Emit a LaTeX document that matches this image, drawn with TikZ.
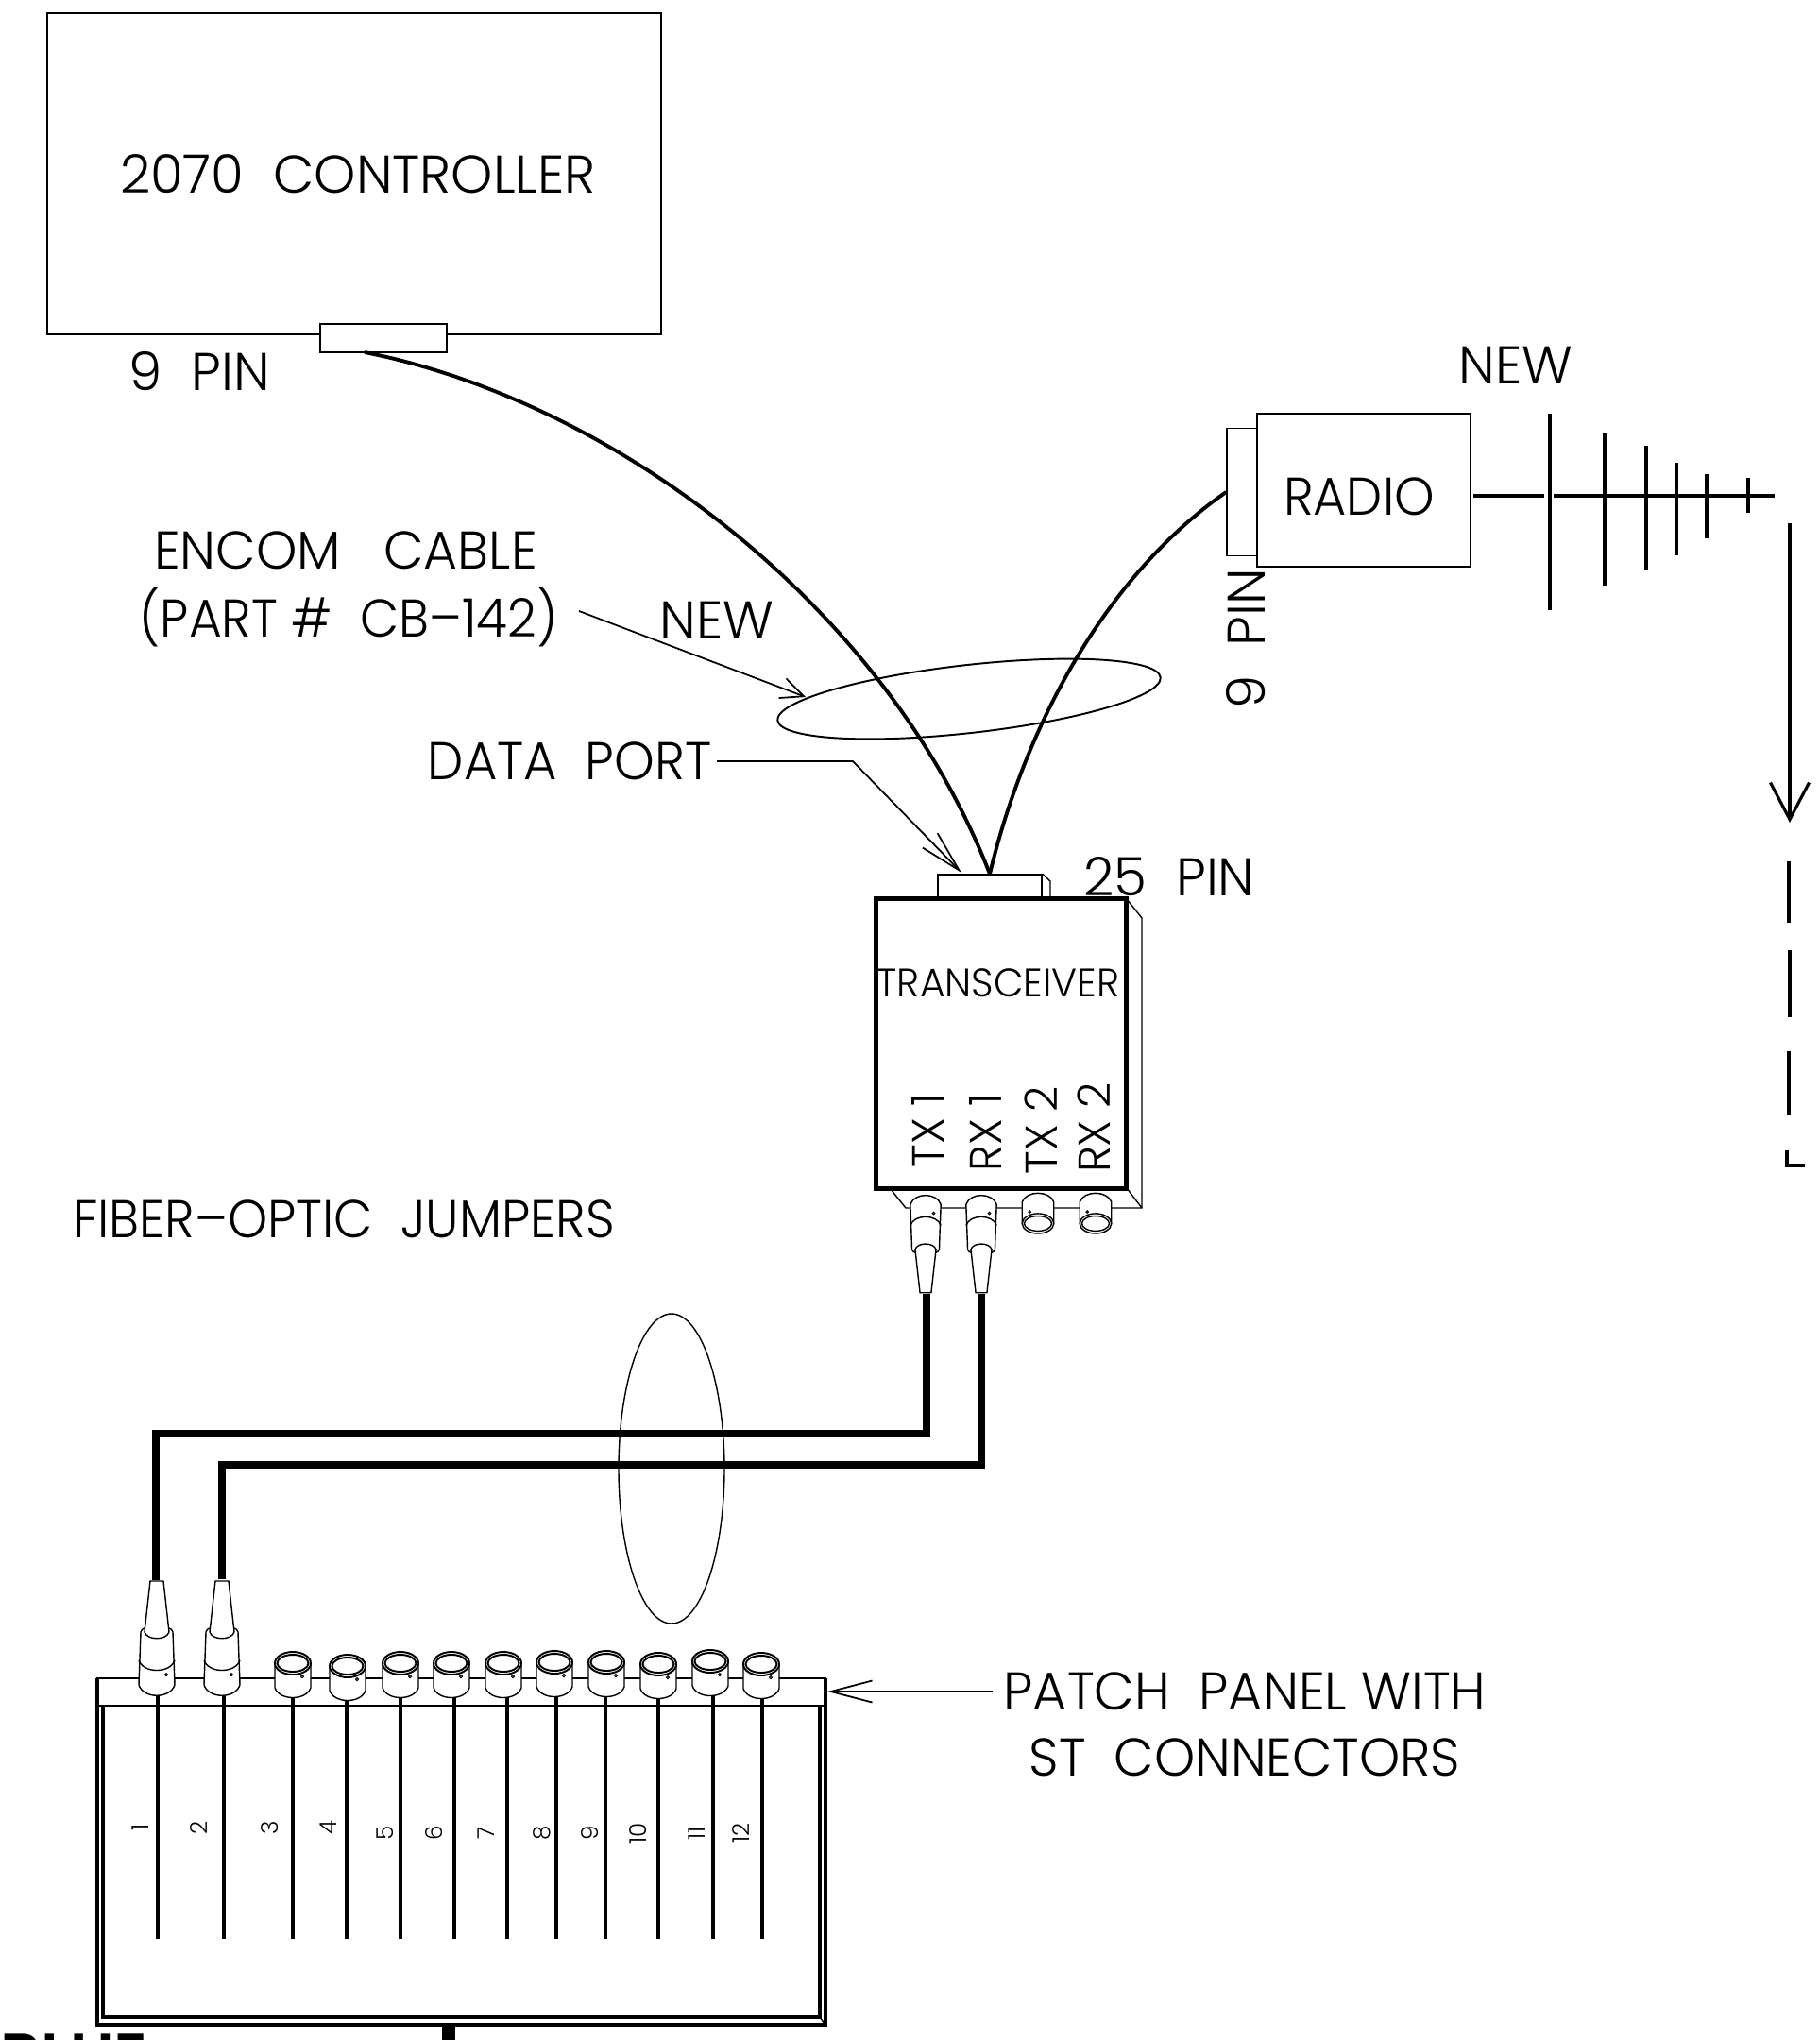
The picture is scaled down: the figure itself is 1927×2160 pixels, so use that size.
\documentclass[tikz,border=0pt]{standalone}
\usepackage{fontspec}
\setmainfont{Poppins}[UprightFont=* Light]
\usetikzlibrary{arrows.meta,positioning,calc}

\tikzset{
    boxnode/.style={draw, line width=0.4pt, inner sep=0pt, fill=white},
    txt/.style={inner sep=0pt, font=\fontsize{16}{18}\selectfont},
    squeeze/.style={inner sep=0pt, font=\fontsize{16}{18}\selectfont\addfontfeature{FakeStretch=#1}},
    pinlabel/.style={inner sep=0pt, rotate=90, font=\fontsize{13.5}{15}\selectfont},
    numlabel/.style={inner sep=0pt, rotate=90, font=\fontsize{7}{8}\selectfont},
    cable/.style={line width=1.1pt},
    jumper/.style={line width=2.3pt},
    leader/.style={line width=0.5pt},
    ring/.style={line width=0.55pt},
    stport/.pic={
        \draw[fill=white, line width=0.4pt] (-19,11) -- (-19,38) .. controls (-14,52) and (14,52) .. (19,38) -- (19,11);
        \draw[fill=white, ring] (0,12) ellipse [x radius=19, y radius=12];
        \draw[ring] (0,12) ellipse [x radius=16.5, y radius=9];
        \draw[line width=0.3pt] (10,26) circle (1.5);
    },
    stplug/.pic={
        \draw[fill=white, line width=0.4pt] (-19,-12) .. controls (-14,3) and (14,3) .. (19,-12) -- (17,-68) .. controls (17,-76) and (-17,-76) .. (-17,-68) -- cycle;
        \draw[line width=0.4pt] (-19,-38) .. controls (-14,-24) and (14,-24) .. (19,-38);
        \draw[fill=white, line width=0.4pt] (-13,-68) .. controls (-10,-59) and (10,-59) .. (13,-68) -- (7,-122) -- (-7,-122) -- cycle;
        \draw[line width=0.3pt] (10,-23) circle (1.5);
    }
}

\begin{document}
\begin{tikzpicture}[x=0.01cm, y=-0.01cm]
    \useasboundingbox (0,0) rectangle (1927,2160);
    \clip (0,0) rectangle (1927,2160);

    % Controller
    \node[boxnode, minimum width=6.5cm, minimum height=3.4cm] (controller) at (375,184) {};
    \node[txt] (controllertxt) at (379,184) {2070\ \ CONTROLLER};
    \node[boxnode, minimum width=1.34cm, minimum height=0.3cm] (ctrlport) at (406,358) {};
    \node[txt] (ctrlpin) at (211,393) {9\ \ PIN};

    % Radio and antenna
    \node[boxnode, minimum width=0.32cm, minimum height=1.35cm] (radioport) at (1315,521) {};
    \node[boxnode, minimum width=2.26cm, minimum height=1.62cm] (radio) at (1444,519) {};
    \node[squeeze=0.96] (radiotxt) at (1439,526) {RADIO};
    \node[txt] (radionew) at (1605,387) {NEW};
    \node[pinlabel, font=\fontsize{16}{18}\selectfont] (radiopin) at (1319,676) {9\ \ PIN};

    \coordinate (antstart) at (1560,525);
    \coordinate (antgap) at (1635,525);
    \coordinate (antgapb) at (1645,525);
    \coordinate (antend) at (1879,525);
    \draw[line width=0.9pt] (antstart) -- (antgap);
    \draw[line width=0.9pt] (antgapb) -- (antend);
    \foreach \x/\ytop/\ybot in {1641/438/646, 1699/458/620, 1743/472/603, 1775/490/588, 1807/502/570, 1851/506/543} {
        \draw[line width=0.9pt] (\x,\ytop) -- (\x,\ybot);
    }

    % Route onward
    \coordinate (routetop) at (1895,554);
    \coordinate (routetip) at (1895,871);
    \draw[line width=0.9pt, -{Straight Barb[length=3.9mm, width=4.1mm]}] (routetop) -- (routetip);
    \draw[line width=0.9pt] (1894,912) -- (1894,977);
    \draw[line width=0.9pt] (1895,1006) -- (1895,1077);
    \draw[line width=0.9pt] (1894,1113) -- (1894,1181);
    \draw[line width=0.9pt] (1892,1218) -- (1892,1234) -- (1911,1234);

    % Transceiver
    \node[boxnode, minimum width=1.1cm, minimum height=0.26cm] (dataport) at (1048,939) {};
    \draw[line width=0.4pt] (dataport.north east) -- (1112,933) -- (1112,952);
    \draw[line width=0.4pt] (1193,952) -- (1209,972) -- (1209,1279) -- (959,1279) -- (943,1259);
    \draw[line width=0.4pt] (1193,1258) -- (1209,1279);
    \node[draw, line width=1.4pt, inner sep=0pt, fill=white, minimum width=2.65cm, minimum height=3.06cm] (transceiver) at (1060,1105) {};
    \node[squeeze=0.97, font=\fontsize{12}{14}\selectfont\addfontfeature{FakeStretch=0.97}] (transtxt) at (1057,1041) {TRANSCEIVER};
    \node[pinlabel] (tx1) at (982,1197) {TX 1};
    \node[pinlabel] (rx1) at (1043,1199) {RX 1};
    \node[pinlabel] (tx2) at (1102,1197) {TX 2};
    \node[pinlabel] (rx2) at (1158,1194) {RX 2};
    \node[txt] (transpin) at (1238,928) {25\ \ PIN};

    \pic[yscale=-.85, xscale=.85] at (980,1265) {stplug};
    \pic[yscale=-.85, xscale=.85] at (1039,1265) {stplug};
    \begin{scope}[ring/.style={line width=0.4pt}]
        \pic[rotate=180, scale=.88] at (1099,1306) {stport};
        \pic[rotate=180, scale=.88] at (1160,1306) {stport};
    \end{scope}

    % Serial cables
    \coordinate (ctrlout) at (386,373);
    \draw[cable] (ctrlout) .. controls (650,425) and (938,642) .. (dataport.north);
    \draw[cable] (radioport.west) .. controls (1170,610) and (1085,770) .. (dataport.north);

    \node[squeeze=0.98] (encoma) at (366,583) {ENCOM\ \ \ CABLE};
    \node[squeeze=0.95] (encomb) at (369,653) {(PART\ \#\ \ CB--142)};
    \node[txt] (encomnew) at (759,657) {NEW};
    \node[squeeze=0.964, anchor=east] (datatxt) at (754,806) {DATA\ \ PORT};
    \coordinate (encomfrom) at (613,647);
    \coordinate (encomto) at (853,738);
    \coordinate (databend) at (903,806);
    \coordinate (datato) at (1018,924);
    \draw[leader, -{Straight Barb[length=2.4mm, width=2.2mm]}] (encomfrom) -- (encomto);
    \draw[leader, -{Straight Barb[length=4.4mm, width=2.2mm]}] ($(datatxt.east)+(5,0)$) -- (databend) -- (datato);
    \draw[line width=0.55pt, rotate around={6.4:(1026,740)}] (1026,740) ellipse [x radius=204, y radius=36];

    % Fiber jumpers
    \node[squeeze=0.952] (fibertxt) at (364,1291) {FIBER--OPTIC\ \ JUMPERS};
    \draw[jumper] (165,1673) -- (165,1518) -- (981,1518) -- (981,1370);
    \draw[jumper] (235,1672) -- (235,1551) -- (1039,1551) -- (1039,1370);
    \draw[line width=0.4pt] (711,1555) ellipse [x radius=56, y radius=164];

    % Patch panel
    \draw[line width=0.5pt] (103,1777) rectangle (874,1806);
    \draw[line width=1.1pt] (103,1777) -- (103,2144) -- (874,2144) -- (874,1777);
    \draw[line width=1.1pt] (109,1806) -- (109,2136) -- (868,2136) -- (868,1806);
    \draw[line width=0.8pt] (103,1806) -- (874,1806);
    \draw[line width=0.4pt] (868,2136) -- (874,2144);
    \draw[line width=4pt] (475,2144) -- (475,2160);

    \foreach \x in {167,237,310,367,424,481,537,589,641,697,755,807} {
        \draw[line width=1.1pt] (\x,1796) -- (\x,2053);
    }
    \pic at (166,1796) {stplug};
    \pic at (235,1796) {stplug};
    \foreach \x/\y in {310/1749, 368/1752, 424/1749, 478/1749, 533/1749, 587/1748, 642/1748, 697/1750, 752/1747, 806/1750} {
        \pic at (\x,\y) {stport};
    }
    \foreach \x/\y/\n in {149/1935/1, 211/1935/2, 286/1935/3, 348/1935/4, 408/1941/5, 460/1941/6, 515/1941/7, 574/1941/8, 625/1941/9, 676/1941/10, 738/1941/11, 785/1941/12} {
        \node[numlabel] (num\n) at (\x,\y) {\n};
    }

    \node[squeeze=0.985, anchor=west] (patcha) at (1062,1791) {PATCH\ \ PANEL\ WITH};
    \node[squeeze=0.976] (patchb) at (1318,1861) {ST\ \ CONNECTORS};
    \draw[leader, -{Straight Barb[length=4.4mm, width=2.3mm]}] ($(patcha.west)-(11,0)$) -- (876,1791);

    \node[inner sep=0pt, anchor=north west, font=\bfseries\fontsize{19}{21}\selectfont] (bluetxt) at (0,2153) {BLUE};
\end{tikzpicture}
\end{document}
